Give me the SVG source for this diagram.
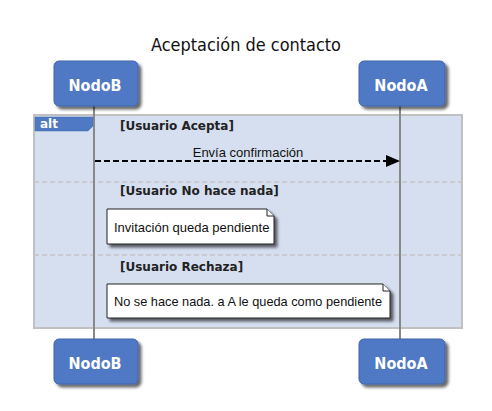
<svg xmlns="http://www.w3.org/2000/svg" width="492" height="411" viewBox="0 0 492 411">
<defs>
<filter id="sh" x="-10%" y="-10%" width="130%" height="140%">
<feGaussianBlur in="SourceAlpha" stdDeviation="1.5"/>
<feOffset dx="3" dy="3" result="b"/>
<feComponentTransfer><feFuncA type="linear" slope="0.6"/></feComponentTransfer>
<feMerge><feMergeNode/><feMergeNode in="SourceGraphic"/></feMerge>
</filter>
<marker id="ah" markerWidth="14" markerHeight="12" refX="14" refY="6" orient="auto" markerUnits="userSpaceOnUse">
<path d="M0,0 L14,6 L0,12 Z" fill="#000"/>
</marker>
</defs>
<style>
.part rect{fill:#4f79c4;stroke:#3f64a8;stroke-width:1}
.part text{font-family:"DejaVu Sans Condensed","DejaVu Sans",sans-serif;font-stretch:condensed;font-weight:bold;font-size:16px;fill:#fff;text-anchor:middle}
.life{stroke:#888;stroke-width:2}
.guard{font-family:"DejaVu Sans",Verdana,sans-serif;font-weight:bold;font-size:12px;fill:#222}
.sep{stroke:#c4c4c4;stroke-width:1.5;stroke-dasharray:5,3}
.note path{fill:#fff;stroke:#222;stroke-width:1}
.note text,.msg{font-family:"Liberation Sans",Arial,sans-serif;font-size:13px;fill:#111}
</style>
<rect width="492" height="411" fill="#fff"/>
<text x="246" y="51" font-family="DejaVu Sans Condensed,DejaVu Sans,sans-serif" font-stretch="condensed" font-size="18" text-anchor="middle" fill="#111" textLength="190" lengthAdjust="spacingAndGlyphs">Aceptación de contacto</text>

<g id="alt-frame">
<rect x="34" y="115" width="428" height="213" fill="#d6dff0" stroke="#c0c0c0" stroke-width="2"/>
<path d="M35,117 H93 V126 L88,131 H35 Z" fill="#4f79c4" stroke="#3f64a8" stroke-width="0.5"/>
<text x="40" y="128" font-family="DejaVu Sans,Verdana,sans-serif" font-weight="bold" font-size="12" fill="#fff">alt</text>
<line class="sep" x1="34" y1="182" x2="462" y2="182"/>
<line class="sep" x1="34" y1="255" x2="462" y2="255"/>
<text class="guard" x="120" y="130">[Usuario Acepta]</text>
<text class="guard" x="120" y="195">[Usuario No hace nada]</text>
<text class="guard" x="120" y="271">[Usuario Rechaza]</text>
</g>

<g id="lifelines">
<line class="life" x1="94" y1="106" x2="94" y2="339"/>
<line class="life" x1="400" y1="106" x2="400" y2="339"/>
</g>

<g id="connectors">
<line x1="95" y1="161" x2="400" y2="161" stroke="#000" stroke-width="2" stroke-dasharray="6,3" marker-end="url(#ah)"/>
<text class="msg" x="248" y="157" text-anchor="middle">Envía confirmación</text>
</g>

<g id="note1" class="note">
<path d="M107,209 H267 L274,216 V244 H107 Z" filter="url(#sh)"/>
<path d="M267,209 V216 H274" fill="none"/>
<text x="114" y="232">Invitación queda pendiente</text>
</g>
<g id="note2" class="note">
<path d="M107,284 H383 L390,291 V318 H107 Z" filter="url(#sh)"/>
<path d="M383,284 V291 H390" fill="none"/>
<text x="114" y="306" textLength="268" lengthAdjust="spacingAndGlyphs">No se hace nada. a A le queda como pendiente</text>
</g>

<g id="NodoB-top" class="part"><rect x="54" y="61" width="84" height="45" rx="5" filter="url(#sh)"/><text x="95" y="91">NodoB</text></g>
<g id="NodoA-top" class="part"><rect x="359" y="61" width="86" height="45" rx="5" filter="url(#sh)"/><text x="401" y="91">NodoA</text></g>
<g id="NodoB-bottom" class="part"><rect x="54" y="339" width="84" height="45" rx="5" filter="url(#sh)"/><text x="95" y="369">NodoB</text></g>
<g id="NodoA-bottom" class="part"><rect x="359" y="339" width="86" height="45" rx="5" filter="url(#sh)"/><text x="401" y="369">NodoA</text></g>
</svg>
